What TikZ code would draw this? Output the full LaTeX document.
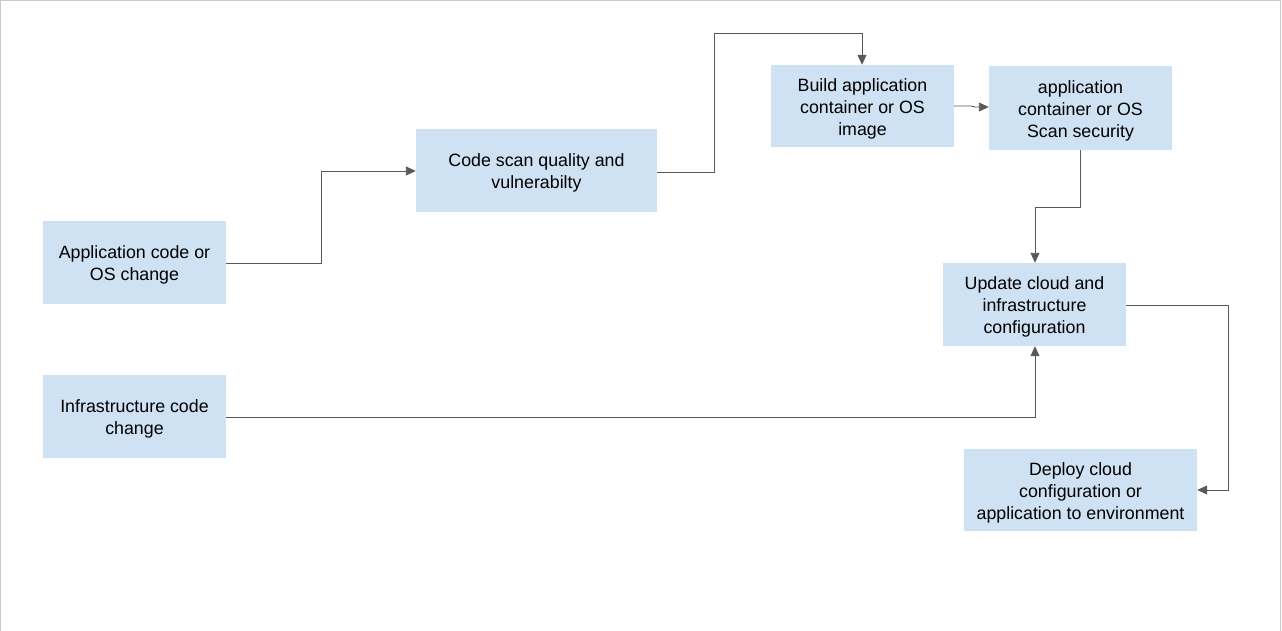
\documentclass[tikz,border=0pt]{standalone}
\usepackage{fontspec}
\setmainfont{Liberation Sans}
\usetikzlibrary{arrows.meta}
\definecolor{boxblue}{HTML}{CFE2F3}
\definecolor{linegray}{HTML}{595959}
\definecolor{framegray}{HTML}{C8C8C8}
\tikzset{
  stepbox/.style={fill=boxblue, draw=none, inner sep=0pt},
  txt/.style={inner sep=0pt, align=center, yshift=-2.5pt,
    font=\fontsize{17.8pt}{22pt}\selectfont, text=black},
  conn/.style={draw=linegray, line width=0.9pt, -{Triangle[length=10pt,width=9pt]}}
}
\begin{document}
\begin{tikzpicture}[x=1pt,y=-1pt]
\useasboundingbox (0,0) rectangle (1282,631);
\draw[framegray, line width=1.2pt] (0.6,631) -- (0.6,0.6) -- (1280.4,0.6) -- (1280.4,631);
% boxes
\node[stepbox, minimum width=183pt, minimum height=83pt] (app) at (134.5,262.5) {};
\node[txt] (appT) at (app) {Application code or\\OS change};
\node[stepbox, minimum width=183pt, minimum height=83pt] (infra) at (134.5,416.5) {};
\node[txt] (infraT) at (infra) {Infrastructure code\\change};
\node[stepbox, minimum width=241pt, minimum height=83pt] (scan) at (536.5,170.5) {};
\node[txt] (scanT) at (scan) {Code scan quality and\\vulnerabilty};
\node[stepbox, minimum width=183pt, minimum height=82pt] (build) at (862.5,106) {};
\node[txt] (buildT) at (build) {Build application\\container or OS\\image};
\node[stepbox, minimum width=183pt, minimum height=84pt] (sec) at (1080.5,108) {};
\node[txt] (secT) at (sec) {application\\container or OS\\Scan security};
\node[stepbox, minimum width=183pt, minimum height=83pt] (upd) at (1034.5,304.5) {};
\node[txt] (updT) at (upd) {Update cloud and\\infrastructure\\configuration};
\node[stepbox, minimum width=233pt, minimum height=82pt] (dep) at (1080.5,490) {};
\node[txt] (depT) at (dep) {Deploy cloud\\configuration or\\application to environment};
% connectors
\coordinate (c1) at (321,263);
\coordinate (c2) at (321,171);
\draw[conn] (app.east |- 0,263) -- (c1) -- (c2) -- (scan.west |- c2);
\coordinate (c3) at (714,172);
\coordinate (c4) at (714,33);
\coordinate (c5) at (862,33);
\draw[conn] (scan.east |- c3) -- (c3) -- (c4) -- (c5) -- (build.north -| c5);
\coordinate (c6) at (971,106);
\coordinate (c7) at (975,107);
\draw[conn] (build.east |- c6) -- (c6) -- (c7) -- (sec.west |- c7);
\coordinate (c8) at (1080,207);
\coordinate (c9) at (1035,207);
\draw[conn] (sec.south -| c8) -- (c8) -- (c9) -- (upd.north -| c9);
\coordinate (c10) at (1035,417);
\draw[conn] (infra.east |- c10) -- (c10) -- (upd.south -| c10);
\coordinate (c11) at (1228,305);
\coordinate (c12) at (1228,490);
\draw[conn] (upd.east |- c11) -- (c11) -- (c12) -- (dep.east |- c12);
\end{tikzpicture}
\end{document}
